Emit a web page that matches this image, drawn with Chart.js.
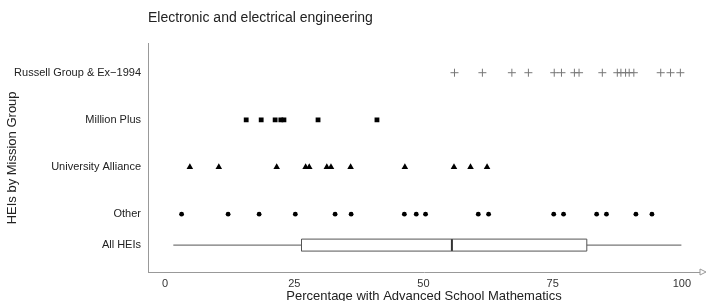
<!DOCTYPE html>
<html>
<head>
<meta charset="utf-8">
<script src="https://cdn.jsdelivr.net/npm/chart.js@4"></script>
<style>
  html, body { margin: 0; padding: 0; background: #fff; }
  #wrap { width: 708px; height: 301px; }
</style>
</head>
<body>
<div id="wrap"><canvas id="chart"></canvas></div>
<script>
const rowLabels = ['All HEIs', 'Other', 'University Alliance', 'Million Plus', 'Russell Group & Ex\u22121994'];
const rowPositions = [0.345, 1, 2, 3, 4];
const xTicks = [0, 25, 50, 75, 100];

const russellGroup = [56.0, 61.4, 67.1, 70.3, 75.3, 76.7, 79.2, 80.1, 84.6, 87.5, 88.2, 89.1, 89.8, 90.7, 95.9, 97.8, 99.7];
const millionPlus = [15.7, 18.6, 21.3, 22.4, 23.0, 29.6, 41.0];
const uniAlliance = [4.8, 10.4, 21.6, 27.2, 27.9, 31.3, 32.1, 35.9, 46.4, 55.9, 59.1, 62.3];
const other = [3.2, 12.2, 18.2, 25.2, 32.9, 36.0, 46.3, 48.6, 50.4, 60.6, 62.6, 75.2, 77.1, 83.5, 85.4, 91.1, 94.2];
// min, q1, median, q3, max
const allHeisStats = [1.6, 26.4, 55.5, 81.6, 99.9];

const boxHalf = 0.127;
const yAll = rowPositions[0];
const [wMin, q1, med, q3, wMax] = allHeisStats;

function row(values, y) {
  return values.map(v => ({ x: v, y: y }));
}

const lineStyle = { showLine: true, pointRadius: 0, borderColor: '#555', borderWidth: 1, fill: false };

const arrowPlugin = {
  id: 'arrow',
  afterDraw(chart) {
    const { ctx, chartArea } = chart;
    const y = chartArea.bottom, x = chartArea.right;
    ctx.save();
    ctx.strokeStyle = '#999';
    ctx.fillStyle = '#fff';
    ctx.lineWidth = 1;
    ctx.beginPath();
    ctx.moveTo(x, y - 3);
    ctx.lineTo(x + 6, y);
    ctx.lineTo(x, y + 3);
    ctx.closePath();
    ctx.fill();
    ctx.stroke();
    ctx.restore();
  }
};

new Chart(document.getElementById('chart').getContext('2d'), {
  type: 'scatter',
  data: {
    datasets: [
      { data: [{ x: wMin, y: yAll }, { x: q1, y: yAll }], ...lineStyle },
      { data: [{ x: q3, y: yAll }, { x: wMax, y: yAll }], ...lineStyle },
      { data: [{ x: q1, y: yAll - boxHalf }, { x: q3, y: yAll - boxHalf }, { x: q3, y: yAll + boxHalf }, { x: q1, y: yAll + boxHalf }, { x: q1, y: yAll - boxHalf }], ...lineStyle },
      { data: [{ x: med, y: yAll - boxHalf }, { x: med, y: yAll + boxHalf }], ...lineStyle, borderColor: '#333', borderWidth: 2 },
      { data: row(other, rowPositions[1]), pointStyle: 'circle', pointRadius: 2.4, backgroundColor: '#000', borderColor: '#000', borderWidth: 0 },
      { data: row(uniAlliance, rowPositions[2]), pointStyle: 'triangle', pointRadius: 3.8, backgroundColor: '#000', borderColor: '#000', borderWidth: 0 },
      { data: row(millionPlus, rowPositions[3]), pointStyle: 'rect', pointRadius: 3.4, backgroundColor: '#000', borderColor: '#000', borderWidth: 0 },
      { data: row(russellGroup, rowPositions[4]), pointStyle: 'cross', pointRadius: 4, borderColor: '#777', borderWidth: 1 }
    ]
  },
  options: {
    responsive: true,
    maintainAspectRatio: false,
    animation: false,
    layout: { padding: { left: 0, right: 8, top: 0, bottom: 0 } },
    plugins: {
      legend: { display: false },
      tooltip: { enabled: false },
      title: {
        display: true,
        text: 'Electronic and electrical engineering',
        align: 'start',
        fullSize: false,
        color: '#222',
        font: { family: 'Liberation Sans', size: 14, weight: 'normal' },
        padding: { top: 10, bottom: 17 }
      }
    },
    scales: {
      x: {
        type: 'linear',
        min: -3.3,
        max: 103.5,
        afterBuildTicks: s => { s.ticks = xTicks.map(v => ({ value: v })); },
        afterFit: s => { s.height = 29; },
        grid: { display: false, drawTicks: false },
        border: { display: true, color: '#999', width: 1 },
        ticks: { color: '#333', padding: 5, font: { family: 'Liberation Sans', size: 11 } },
        title: {
          display: true,
          text: 'Percentage with Advanced School Mathematics',
          color: '#222',
          font: { family: 'Liberation Sans', size: 13 },
          padding: { top: 0, bottom: -3 }
        }
      },
      y: {
        type: 'linear',
        min: -0.2254,
        max: 4.613,
        afterBuildTicks: s => { s.ticks = rowPositions.map(v => ({ value: v })); },
        afterFit: s => { s.width = 148; },
        grid: { display: false, drawTicks: false },
        border: { display: true, color: '#999', width: 1 },
        ticks: {
          color: '#222',
          padding: 7,
          font: { family: 'Liberation Sans', size: 11 },
          callback: v => rowLabels[rowPositions.indexOf(v)]
        },
        title: {
          display: true,
          text: 'HEIs by Mission Group',
          color: '#222',
          font: { family: 'Liberation Sans', size: 13 },
          padding: { top: 5, bottom: 0 }
        }
      }
    }
  },
  plugins: [arrowPlugin]
});
</script>
</body>
</html>
